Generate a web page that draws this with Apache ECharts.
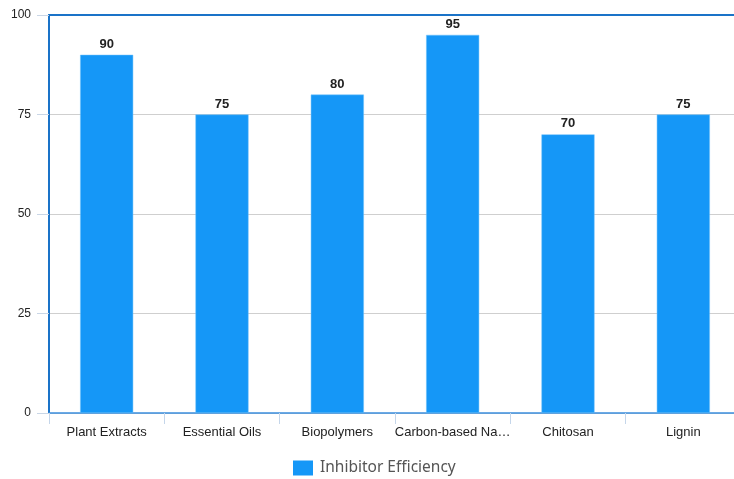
<!DOCTYPE html>
<html>
<head>
<meta charset="utf-8">
<script src="https://cdn.jsdelivr.net/npm/echarts@6/dist/echarts.min.js"></script>
<style>
  html, body { margin: 0; padding: 0; background: #fff; }
  #chart { width: 734px; height: 479px; }
</style>
</head>
<body>
<div id="chart"></div>
<script>
// Green corrosion inhibitor classes and their efficiency (%)
const categories = ['Plant Extracts', 'Essential Oils', 'Biopolymers', 'Carbon-based Nanomaterials', 'Chitosan', 'Lignin'];
const efficiency = [90, 75, 80, 95, 70, 75];
const yTicks = [0, 25, 50, 75, 100];

const chart = echarts.init(document.getElementById('chart'));
chart.setOption({
  animation: false,
  textStyle: { fontFamily: 'Liberation Sans, Arial, sans-serif' },
  grid: { left: 49, width: 692, top: 15, bottom: 66, containLabel: false, outerBoundsMode: 'none' },
  legend: {
    top: 455,
    left: 288,
    itemWidth: 20,
    itemHeight: 15,
    itemGap: 8,
    icon: 'rect',
    itemStyle: { borderWidth: 0 },
    textStyle: { fontFamily: 'Noto Sans, sans-serif', fontSize: 15.5, color: '#555', padding: [0, 0, 0, 2] },
    data: ['Inhibitor Efficiency']
  },
  xAxis: [{
    type: 'category',
    data: categories,
    axisLine: { lineStyle: { color: '#3b8ede', width: 1.5 } },
    axisTick: { show: true, length: 11, lineStyle: { color: '#c5d6ea' } },
    axisLabel: {
      color: '#222', fontSize: 13, margin: 13,
      width: 121, overflow: 'truncate', ellipsis: '…', interval: 0
    }
  }, {
    type: 'category',
    position: 'top',
    data: categories,
    axisLine: { show: true, lineStyle: { color: '#1a73c8', width: 2 } },
    axisTick: { show: false },
    axisLabel: { show: false }
  }],
  yAxis: {
    type: 'value',
    min: yTicks[0],
    max: yTicks[yTicks.length - 1],
    interval: 25,
    axisLine: { show: true, lineStyle: { color: '#1a73c8', width: 2 } },
    axisTick: { show: true, length: 12, lineStyle: { color: '#c9d6e6' } },
    axisLabel: { color: '#222', fontSize: 12, margin: 18 },
    splitLine: { lineStyle: { color: '#cfcfcf' } }
  },
  series: [{
    name: 'Inhibitor Efficiency',
    type: 'bar',
    data: efficiency,
    barWidth: '46%',
    itemStyle: { color: '#1597f7', borderColor: '#6fc0fb', borderWidth: 0.5 },
    label: {
      show: true,
      position: 'top',
      distance: 4,
      color: '#222',
      fontWeight: 'bold',
      fontSize: 13
    }
  }]
});
</script>
</body>
</html>
